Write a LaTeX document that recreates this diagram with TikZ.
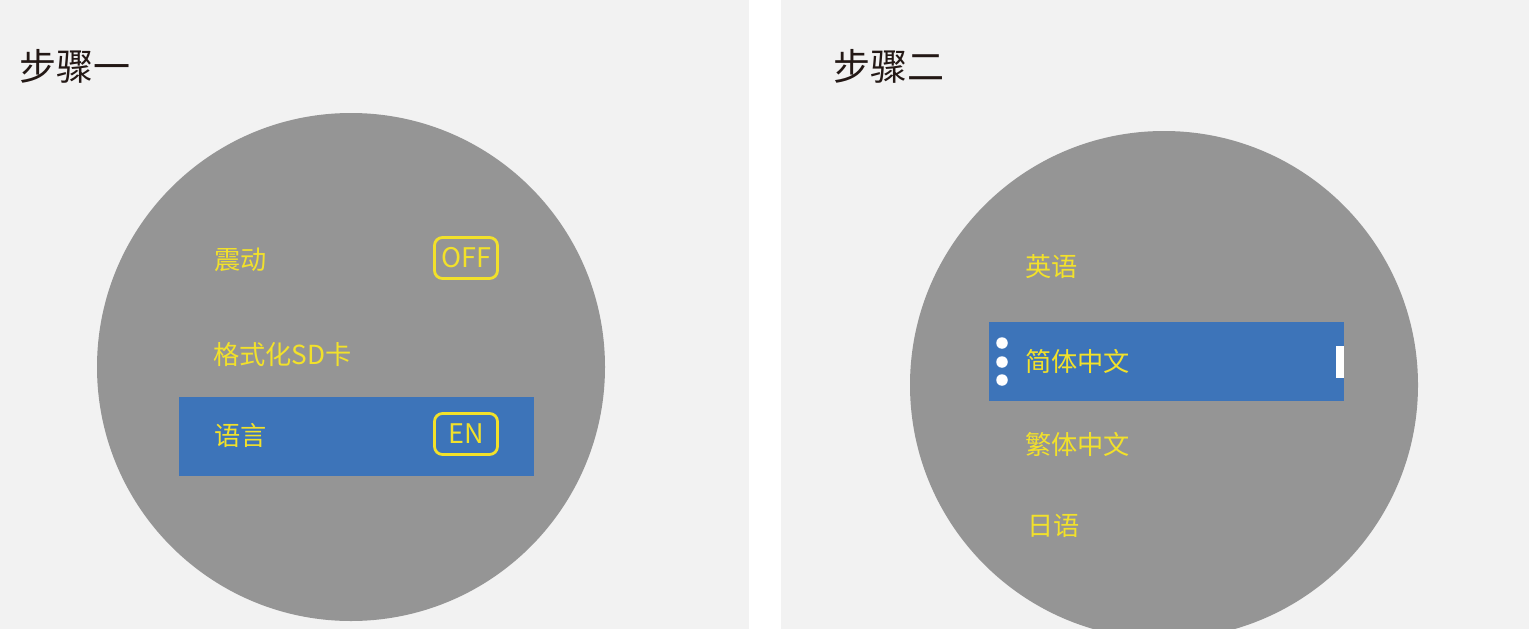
\documentclass[tikz,border=0pt]{standalone}
\usepackage{fontspec}
\setmainfont{Noto Sans CJK SC}
\begin{document}
\begin{tikzpicture}[x=1pt,y=-1pt,
  panel/.style={fill=bgray,draw=none},
  dial/.style={fill=cgray,draw=none},
  selbar/.style={fill=sblue,draw=none},
  title/.style={anchor=west,inner sep=0pt,text=tdark,font=\fontsize{37}{40}\selectfont},
  item/.style={anchor=west,inner sep=0pt,text=ylw,font=\fontsize{26.2}{30}\selectfont},
  valbox/.style={draw=ylw,line width=2.8pt,rounded corners=8pt,minimum width=63pt,minimum height=41pt,inner sep=0pt,text=ylw,font=\fontsize{27}{28}\selectfont},
  dot/.style={circle,fill=white,draw=none,minimum size=11.5pt,inner sep=0pt}]
\definecolor{bgray}{HTML}{F2F2F2}
\definecolor{cgray}{HTML}{959595}
\definecolor{sblue}{HTML}{3D74B9}
\definecolor{ylw}{HTML}{F2E12A}
\definecolor{tdark}{HTML}{231815}
\useasboundingbox (0,0) rectangle (1529,629);
\clip (0,0) rectangle (1529,629);
\fill[white] (0,0) rectangle (1529,629);
% panels
\path[panel] (0,0) rectangle (749,629);
\path[panel] (781,0) rectangle (1529,629);
% left
\node[title] (t1) at (19,66) {步骤一};
\path[dial] (351,367) circle (254);
\path[selbar] (179,397) rectangle (534,476);
\node[item] (i1) at (214,259.5) {震动};
\node[valbox] (v1) at (466,258) {OFF};
\node[item] (i2) at (213,354.5) {格式化SD卡};
\node[item] (i3) at (214,435.5) {语言};
\node[valbox] (v3) at (466,434) {EN};
% right
\node[title] (t2) at (833,66) {步骤二};
\path[dial] (1164,385) circle (254);
\path[selbar] (989,322) rectangle (1344,401);
\node[dot] (d1) at (1002,343) {};
\node[dot] (d2) at (1002,362) {};
\node[dot] (d3) at (1002,380) {};
\fill[white] (1336,346) rectangle (1344,378);
\node[item] (r1) at (1025,266.5) {英语};
\node[item] (r2) at (1025,361) {简体中文};
\node[item] (r3) at (1025,444) {繁体中文};
\node[item] (r4) at (1027,525.5) {日语};
\end{tikzpicture}
\end{document}
